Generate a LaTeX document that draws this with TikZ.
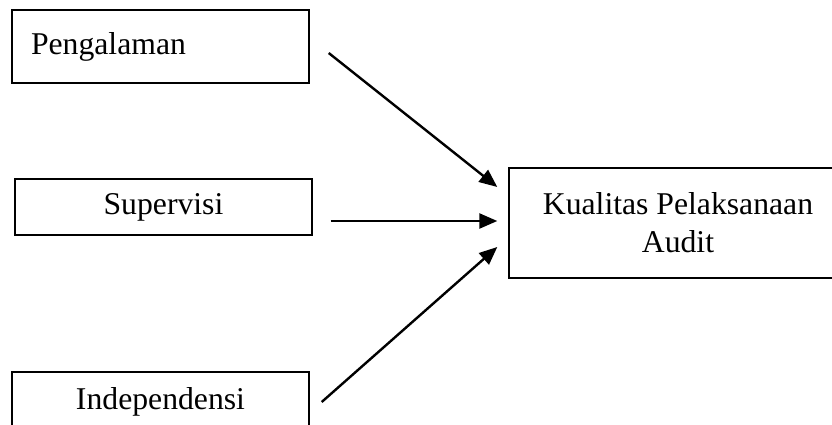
\documentclass[tikz,border=0pt]{standalone}
\usepackage{fontspec}
\setmainfont{Liberation Serif}
\usepackage{tikz}
\usetikzlibrary{arrows.meta, positioning, calc}

\begin{document}
\begin{tikzpicture}[
  x=1pt, y=-1pt,
  box/.style={draw, line width=1.4pt, inner sep=0pt, minimum width=297pt, font=\fontsize{31.7}{38}\selectfont},
  arr/.style={-{Triangle[length=18pt, width=15pt]}, line width=2.4pt},
]
  \useasboundingbox (0,0) rectangle (832,425);
  \clip (0,0) rectangle (832,425);
  \node[box, minimum height=73pt, text width=259pt, inner xsep=19pt, align=left] (peng) at (160.5,46.5) {Pengalaman};
  \node[box, minimum height=56pt] (sup) at (163.5,207) {Supervisi};
  \node[box, minimum height=60pt] (indep) at (160.5,402) {Independensi};
  \node[box, minimum width=338pt, minimum height=110pt, align=center] (kual) at (678,223) {Kualitas Pelaksanaan\\Audit};
  \draw[arr] ([xshift=19pt, yshift=-6.5pt]peng.east) -- ([xshift=-11pt, yshift=36pt]kual.west);
  \draw[arr] ([xshift=18pt, yshift=-14pt]sup.east) -- ([xshift=-11pt, yshift=2pt]kual.west);
  \draw[arr] ([xshift=12pt]indep.east) -- ([xshift=-11pt, yshift=-24pt]kual.west);
\end{tikzpicture}
\end{document}
